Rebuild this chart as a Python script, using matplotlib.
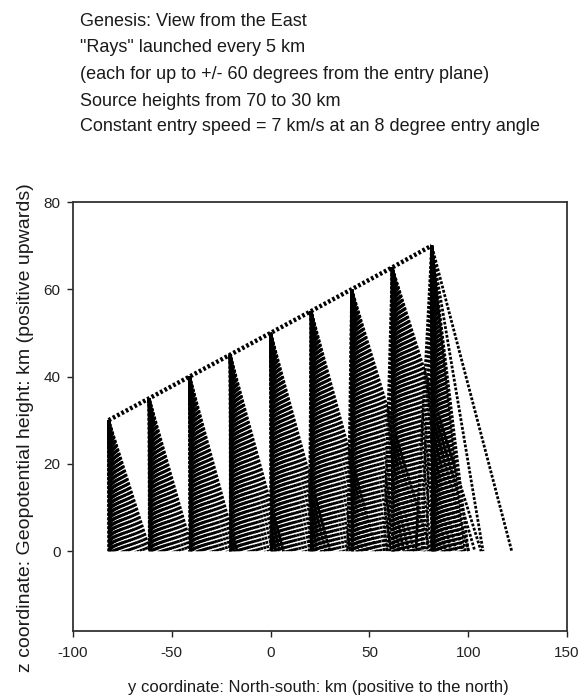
import matplotlib
matplotlib.use("Agg")
import matplotlib.pyplot as plt

plt.rcParams['font.family'] = ['Liberation Sans', 'DejaVu Sans']
plt.rcParams['axes.unicode_minus'] = False

# source points along the entry path (y in km, height in km)
src_y = [-82, -61.5, -41, -20.5, 0, 20.5, 41, 61.5, 81.5]
src_z = [30, 35, 40, 45, 50, 55, 60, 65, 70]

# ground spread of each fan (km to the north of the source) and lean to the south
fan_spread = [21, 22, 24, 27, 30, 33, 40, 45, 16]
fan_lean = [0, 0, 0, 0, 0, -1, -2, -4, -8]

# where the rays of one fan land, as a fraction of the fan's spread
ray_frac = [0, 0.005, 0.01, 0.015, 0.02, 0.03, 0.04, 0.05, 0.06, 0.07, 0.08,
            0.09, 0.10, 0.12, 0.14, 0.16, 0.18, 0.20, 0.22, 0.25, 0.28, 0.31,
            0.34, 0.37, 0.41, 0.45, 0.50, 0.55, 0.60, 0.66, 0.72, 0.79, 0.86,
            0.93, 1.0]
lean_frac = [0.3, 0.6, 1.0]

# outlying rays of the highest source (ground y, km)
stray_land = [98.4, 100, 107.5, 122]

title_lines = ['Genesis: View from the East',
               '"Rays" launched every 5 km',
               '(each for up to +/- 60 degrees from the entry plane)',
               'Source heights from 70 to 30 km',
               'Constant entry speed = 7 km/s at an 8 degree entry angle']
title_y = [0.969, 0.932, 0.893, 0.855, 0.819]

fig = plt.figure(figsize=(5.87, 6.99), dpi=100)
ax = fig.add_axes([0.1244, 0.0973, 0.8416, 0.6137])


def ray(y0, z0, y1, k):
    # dotted ray from a source down to the ground; shift the dot phase per ray
    ax.plot([y0, y1], [z0, 0], color='black', lw=2.0,
            ls=((k * 0.11) % 1.6, (1.0, 0.6)))


k = 0
for y0, z0, spread, lean in zip(src_y, src_z, fan_spread, fan_lean):
    for f in ray_frac:
        ray(y0, z0, y0 + f * spread, k)
        k += 1
    if lean != 0:
        for f in lean_frac:
            ray(y0, z0, y0 + f * lean, k)
            k += 1

for land in stray_land:
    ray(src_y[-1], src_z[-1], land, k)
    k += 1

# entry path joining the sources
ax.plot(src_y, src_z, color='black', lw=3.2, ls=(0, (0.6, 0.5)))

ax.set_xlim(-100, 150)
ax.set_ylim(-18.3, 80)
ax.set_xticks([-100, -50, 0, 50, 100, 150])
ax.set_yticks([0, 20, 40, 60, 80])
ax.tick_params(direction='out', length=4, width=1, labelsize=11, colors='#222222')
ax.tick_params(axis='x', pad=7)
ax.tick_params(axis='y', pad=5)
for sp in ax.spines.values():
    sp.set_linewidth(1.3)
    sp.set_color('#333333')

for line, ty in zip(title_lines, title_y):
    fig.text(0.137, ty, line, ha='left', va='center', fontsize=13, color='#1a1a1a')

fig.text(0.5417, 0.016, 'y coordinate: North-south: km (positive to the north)',
         ha='center', va='center', fontsize=12, color='#1a1a1a')
fig.text(0.043, 0.388, 'z coordinate: Geopotential height: km (positive upwards)',
         ha='center', va='center', rotation=90, fontsize=14, color='#1a1a1a')

fig.savefig('out.png', dpi=100)
